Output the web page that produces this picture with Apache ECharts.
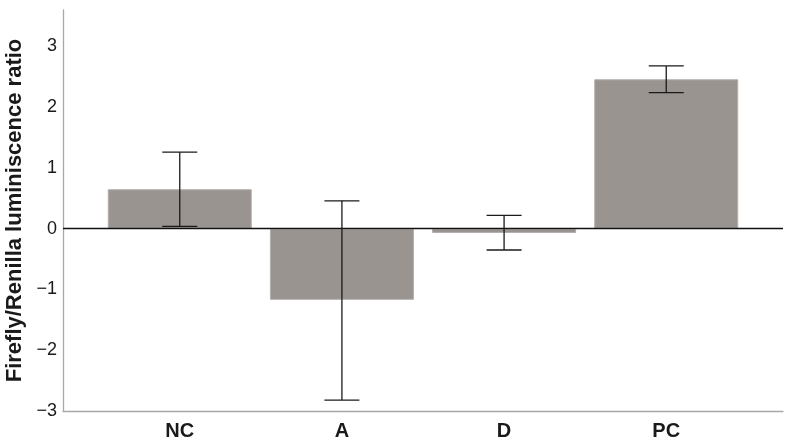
<!DOCTYPE html>
<html><head><meta charset="utf-8">
<script src="https://cdn.jsdelivr.net/npm/echarts@6/dist/echarts.min.js"></script>
<style>html,body{margin:0;padding:0;background:#fff}#c{width:786px;height:448px}</style>
</head><body><div id="c"></div>
<script>
const categories = ['NC', 'A', 'D', 'PC'];
const means = [0.65, -1.17, -0.07, 2.46];
const errLow = [0.04, -2.82, -0.35, 2.24];
const errHigh = [1.26, 0.46, 0.22, 2.68];
const yTicks = [-3, -2, -1, 0, 1, 2, 3];

const chart = echarts.init(document.getElementById('c'));
chart.setOption({
  animation: false,
  grid: {left: 63, right: 3, top: 10, bottom: 37, containLabel: false, outerBoundsMode: 'none'},
  xAxis: {
    type: 'value', min: -0.72, max: 3.72, interval: 0.04,
    axisLine: {show: true, onZero: false, lineStyle: {color: '#a8a8a8', width: 1.3}},
    axisTick: {show: false}, splitLine: {show: false},
    axisLabel: {
      show: true, fontFamily: 'Liberation Sans, Arial', fontWeight: 'bold', fontSize: 20, color: '#1a1a1a', margin: 10,
      showMinLabel: false, showMaxLabel: false, hideOverlap: false,
      formatter: v => { const i = Math.round(v); return Math.abs(v - i) < 1e-6 && categories[i] !== undefined ? categories[i] : ''; }
    }
  },
  yAxis: {
    type: 'value', min: -3, max: 3.6, interval: 1,
    name: 'Firefly/Renilla luminiscence ratio', nameLocation: 'middle', nameGap: 36,
    nameTextStyle: {fontFamily: 'Liberation Sans, Arial', fontWeight: 'bold', fontSize: 22, color: '#1a1a1a'},
    axisLine: {show: true, onZero: false, lineStyle: {color: '#a8a8a8', width: 1.3}},
    axisTick: {show: false}, splitLine: {show: false},
    axisLabel: {
      fontFamily: 'Liberation Sans, Arial', fontSize: 18, color: '#1a1a1a', margin: 6,
      formatter: v => yTicks.indexOf(v) >= 0 ? (v < 0 ? '\u2212' + Math.abs(v) : String(v)) : ''
    }
  },
  series: [
    {
      type: 'bar', barWidth: 144,
      data: means.map((m, i) => [i, m]),
      itemStyle: {color: '#9a9491', borderColor: '#b4afac', borderWidth: 1},
      markLine: {
        silent: true, symbol: 'none', label: {show: false},
        lineStyle: {color: '#111', width: 1.3, type: 'solid'},
        data: [{yAxis: 0}]
      }
    },
    {
      type: 'custom',
      data: means.map((m, i) => [i, errLow[i], errHigh[i]]),
      renderItem: (params, api) => {
        const x = api.value(0);
        const lo = api.coord([x, api.value(1)]);
        const hi = api.coord([x, api.value(2)]);
        const hw = 17.5;
        const st = {stroke: '#1a1a1a', lineWidth: 1.3};
        return {type: 'group', children: [
          {type: 'line', shape: {x1: lo[0], y1: lo[1], x2: hi[0], y2: hi[1]}, style: st},
          {type: 'line', shape: {x1: lo[0] - hw, y1: lo[1], x2: lo[0] + hw, y2: lo[1]}, style: st},
          {type: 'line', shape: {x1: hi[0] - hw, y1: hi[1], x2: hi[0] + hw, y2: hi[1]}, style: st}
        ]};
      },
      z: 5
    }
  ]
});
</script></body></html>
